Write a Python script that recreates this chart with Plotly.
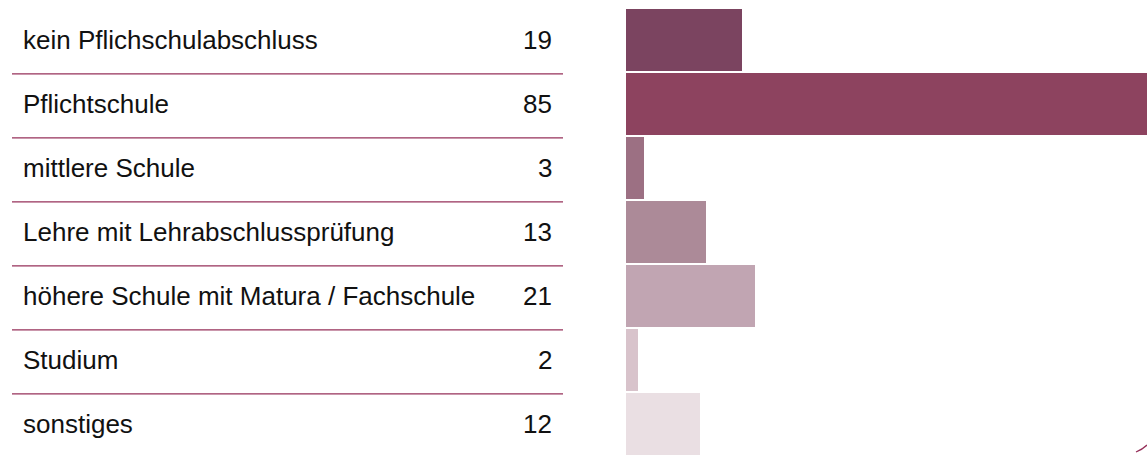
import plotly.graph_objects as go

categories = [
    "kein Pflichschulabschluss",
    "Pflichtschule",
    "mittlere Schule",
    "Lehre mit Lehrabschlussprüfung",
    "höhere Schule mit Matura / Fachschule",
    "Studium",
    "sonstiges",
]
values = [19, 85, 3, 13, 21, 2, 12]
bar_colors = ["#7b4460", "#8d435f", "#9c7083", "#ac8a98", "#c1a5b2", "#d8c3cb", "#eadfe3"]

W, H = 1147, 455
positions = list(range(len(categories)))

fig = go.Figure()
fig.add_trace(go.Bar(
    x=values, y=positions, orientation="h",
    marker=dict(color=bar_colors, line=dict(width=0)),
    width=0.97, hoverinfo="skip", showlegend=False,
))

font = dict(family="Liberation Sans, Arial, sans-serif", size=26, color="#111111")
annotations = []
shapes = []
for i, (c, v) in enumerate(zip(categories, values)):
    annotations.append(dict(x=21 / W, y=i, xref="paper", yref="y", text=c,
                            showarrow=False, xanchor="left", yanchor="middle", font=font))
    annotations.append(dict(x=554 / W, y=i, xref="paper", yref="y", text=str(v),
                            showarrow=False, xanchor="right", yanchor="middle", font=font))
    if i < len(categories) - 1:
        shapes.append(dict(type="line", xref="paper", yref="y",
                           x0=12 / W, x1=563 / W, y0=i + 0.53, y1=i + 0.53,
                           line=dict(color="#96305a", width=1.3)))

# small decorative curve at bottom right
shapes.append(dict(type="path", xref="paper", yref="paper",
                   path=f"M {1136/W} {1 - 452/H} Q {1143/W} {1 - 449/H} {1147/W} {1 - 445/H}",
                   line=dict(color="#96305a", width=1.3)))

fig.update_layout(
    width=W, height=H,
    margin=dict(l=0, r=0, t=0, b=0),
    paper_bgcolor="white", plot_bgcolor="white",
    xaxis=dict(domain=[626 / W, 1], range=[0, 85], visible=False, fixedrange=True),
    yaxis=dict(range=[6.484, -0.625], visible=False, fixedrange=True),
    annotations=annotations, shapes=shapes,
    bargap=0,
)

fig.write_html("out.html", config={"displayModeBar": False},
               post_script="document.body.style.margin='0';document.body.style.overflow='hidden';")
